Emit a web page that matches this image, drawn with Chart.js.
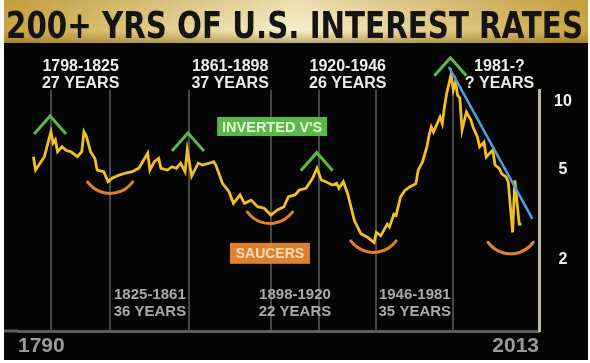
<!DOCTYPE html>
<html>
<head>
<meta charset="utf-8">
<script src="https://cdn.jsdelivr.net/npm/chart.js@4.4.0/dist/chart.umd.min.js"></script>
<style>
  html, body { margin: 0; padding: 0; background: #fff; }
  #wrap { width: 590px; height: 363px; }
</style>
</head>
<body>
<div id="wrap"><canvas id="rates"></canvas></div>
<script>
// long-term US rates (log scale)
const years = [1790, 1791, 1794, 1795, 1798, 1799, 1800, 1801, 1803, 1805, 1807, 1810, 1812, 1813, 1814,
  1816, 1818, 1819, 1822, 1824, 1826, 1829, 1832, 1835, 1838, 1842, 1843, 1845, 1847, 1848, 1851, 1853,
  1855, 1857, 1859, 1860, 1862, 1865, 1867, 1870, 1872, 1873, 1876, 1879, 1881, 1884, 1886, 1889, 1892,
  1895, 1898, 1901, 1904, 1906, 1909, 1911, 1914, 1917, 1919, 1921, 1923, 1926, 1928, 1929, 1931, 1933,
  1936, 1939, 1942, 1945, 1946, 1948, 1951, 1952, 1954, 1955, 1957, 1959, 1961, 1964, 1965, 1967, 1969,
  1970, 1971, 1972, 1974, 1975, 1976, 1977, 1978, 1980, 1981, 1982, 1983, 1984, 1985, 1987, 1989, 1990,
  1992, 1993, 1995, 1996, 1999, 2000, 2002, 2003, 2005, 2006, 2008, 2009, 2011, 2012];
const rates = [5.73, 5.0, 5.54, 5.73, 7.39, 6.59, 6.8, 6.03, 6.34, 6.1, 6.03, 5.73, 6.03, 7.39, 7.1,
  6.03, 5.62, 5.0, 4.92, 4.44, 4.61, 4.75, 4.85, 4.92, 5.1, 5.93, 5.0, 5.44, 5.63, 5.09, 5.0, 5.17,
  5.09, 5.36, 4.92, 6.13, 4.7, 5.36, 5.26, 5.36, 5.44, 5.26, 4.37, 4.01, 3.56, 3.88, 3.56, 3.68, 3.44,
  3.39, 3.16, 3.33, 3.44, 3.81, 3.88, 4.08, 4.15, 4.6, 5.09, 4.52, 4.44, 4.29, 4.37, 4.15, 4.44, 3.92,
  2.99, 2.61, 2.52, 2.39, 2.65, 2.56, 2.88, 2.8, 3.19, 3.15, 3.8, 4.06, 4.2, 4.35, 4.98, 5.43, 6.33,
  7.12, 7.75, 7.37, 8.16, 8.58, 8.03, 9.5, 10.9, 13.2, 11.3, 12.3, 10.7, 10.4, 7.52, 9.03, 8.33, 7.75,
  7.0, 6.33, 6.65, 5.71, 6.13, 5.26, 5.07, 4.82, 4.66, 4.43, 2.65, 4.5, 2.88, 2.88];

const trendYears = [1979, 2017];
const trendRates = [14.3, 3.04];

const yTicks = [2, 5, 10];
const xTickLabels = ["1790", "2013"];
const periodYears = [1798, 1825, 1861, 1898, 1920, 1946, 1981];

const topLabels = [
  { year: 1811.5, lines: ["1798-1825", "27 YEARS"] },
  { year: 1879.5, lines: ["1861-1898", "37 YEARS"] },
  { year: 1933, lines: ["1920-1946", "26 YEARS"] },
  { year: 2002, lines: ["1981-?", "? YEARS"] }
];
const bottomLabels = [
  { year: 1843, lines: ["1825-1861", "36 YEARS"] },
  { year: 1909, lines: ["1898-1920", "22 YEARS"] },
  { year: 1963.5, lines: ["1946-1981", "35 YEARS"] }
];
const peaks = [
  { year: 1797.6, rate: 8.67 },
  { year: 1860.3, rate: 7.29 },
  { year: 1918.9, rate: 5.97 },
  { year: 1979.7, rate: 15.7 }
];
const saucers = [
  { year: 1824.9, rate: 3.94 },
  { year: 1897.6, rate: 2.9 },
  { year: 1944.7, rate: 2.16 },
  { year: 2007.1, rate: 2.13 }
];

const LABEL_FONT = '"Liberation Sans", Arial, sans-serif';
const GREEN = "#58b947";
const ORANGE = "#de812c";

const backdrop = {
  id: "backdrop",
  beforeDraw(chart) {
    const { ctx, width, height, chartArea } = chart;
    ctx.save();
    ctx.fillStyle = "#fff";
    ctx.fillRect(0, 0, width, height);

    // gold banner
    const g = ctx.createLinearGradient(4, 0, 588, 0);
    g.addColorStop(0, "#c9a543");
    g.addColorStop(0.5, "#f8f0cb");
    g.addColorStop(1, "#c9a543");
    ctx.fillStyle = g;
    ctx.fillRect(4, 0, 584, 43);
    const v = ctx.createLinearGradient(0, 0, 0, 43);
    v.addColorStop(0, "rgba(150,110,20,0.15)");
    v.addColorStop(0.7, "rgba(150,110,20,0)");
    v.addColorStop(1, "rgba(120,85,10,0.45)");
    ctx.fillStyle = v;
    ctx.fillRect(4, 0, 584, 43);

    ctx.fillStyle = "#050505";
    ctx.fillRect(4, 43, 584, 317);

    // title, squeezed to the banner width
    const title = "200+ YRS OF U.S. INTEREST RATES";
    ctx.font = 'bold 37px "Liberation Sans Narrow", "DejaVu Sans Condensed", sans-serif';
    const w = ctx.measureText(title).width;
    ctx.translate(6, 37.5);
    ctx.scale(577 / w, 1);
    ctx.fillStyle = "#141414";
    ctx.textBaseline = "alphabetic";
    ctx.fillText(title, 0, 0);
    ctx.restore();

    // bottom axis runs to the left edge
    ctx.save();
    ctx.strokeStyle = "#5f5d57";
    ctx.lineWidth = 3;
    ctx.beginPath();
    ctx.moveTo(4, chartArea.bottom);
    ctx.lineTo(chartArea.left, chartArea.bottom);
    ctx.stroke();
    ctx.restore();
  }
};

function drawLines(ctx, lines, cx, y0, gap) {
  lines.forEach((t, i) => ctx.fillText(t, cx, y0 + i * gap));
}

const notes = {
  id: "notes",
  afterDatasetsDraw(chart) {
    const { ctx } = chart;
    const xs = chart.scales.x, ys = chart.scales.y;
    ctx.save();
    ctx.textAlign = "center";
    ctx.textBaseline = "middle";

    ctx.font = "bold 16px " + LABEL_FONT;
    ctx.fillStyle = "#ececec";
    topLabels.forEach(l => drawLines(ctx, l.lines, xs.getPixelForValue(l.year), 66.5, 17));

    ctx.font = "bold 15px " + LABEL_FONT;
    ctx.fillStyle = "#a9a9a9";
    bottomLabels.forEach(l => drawLines(ctx, l.lines, xs.getPixelForValue(l.year), 295, 17));

    // inverted V's
    ctx.strokeStyle = GREEN;
    ctx.lineWidth = 3;
    ctx.lineJoin = "miter";
    peaks.forEach(p => {
      const x = xs.getPixelForValue(p.year), y = ys.getPixelForValue(p.rate);
      ctx.beginPath();
      ctx.moveTo(x - 16, y + 18);
      ctx.lineTo(x, y);
      ctx.lineTo(x + 16, y + 18);
      ctx.stroke();
    });

    // saucers
    ctx.strokeStyle = ORANGE;
    ctx.lineCap = "round";
    saucers.forEach(s => {
      const x = xs.getPixelForValue(s.year), y = ys.getPixelForValue(s.rate);
      const r = 28;
      ctx.beginPath();
      ctx.arc(x, y - r, r, Math.PI * 0.2, Math.PI * 0.8);
      ctx.stroke();
    });

    // tag boxes
    const tag = (text, year, rate, w, h, bg, fg, size) => {
      const x = xs.getPixelForValue(year), y = ys.getPixelForValue(rate);
      ctx.fillStyle = bg;
      ctx.fillRect(x - w / 2, y - h / 2, w, h);
      ctx.fillStyle = fg;
      ctx.font = "bold " + size + "px " + LABEL_FONT;
      ctx.fillText(text, x, y + 1);
    };
    tag("INVERTED V'S", 1898.6, 7.79, 110, 19, GREEN, "#e9f6dc", 14.5);
    tag("SAUCERS", 1897.6, 2.14, 80, 21, ORANGE, "#f7dcc0", 14);
    ctx.restore();
  }
};

const ctx = document.getElementById("rates").getContext("2d");

new Chart(ctx, {
  type: "line",
  data: {
    datasets: [
      {
        data: trendYears.map((x, i) => ({ x, y: trendRates[i] })),
        borderColor: "#4c9fe0",
        borderWidth: 2.5,
        pointRadius: 0,
        clip: false,
        order: 0
      },
      {
        data: years.map((x, i) => ({ x, y: rates[i] })),
        borderColor: "#f4bf22",
        borderWidth: 2.8,
        pointRadius: 0,
        tension: 0,
        clip: false,
        order: 1
      }
    ]
  },
  options: {
    responsive: true,
    maintainAspectRatio: false,
    animation: false,
    layout: { padding: { top: 90, left: 18, right: 0, bottom: 0 } },
    plugins: { legend: { display: false }, tooltip: { enabled: false } },
    scales: {
      x: {
        type: "linear",
        min: 1783,
        max: 2020,
        afterBuildTicks: scale => {
          scale.ticks = [scale.min, ...periodYears, scale.max].map(value => ({ value }));
        },
        afterFit: scale => { scale.height = 32; },
        grid: {
          drawTicks: false,
          lineWidth: 2,
          color: c => periodYears.includes(c.tick && c.tick.value) ? "#474747" : "transparent"
        },
        border: { color: "#5f5d57", width: 3 },
        ticks: {
          autoSkip: false,
          maxRotation: 0,
          align: "inner",
          padding: 3,
          color: "#9b9b9b",
          font: { family: LABEL_FONT, size: 21, weight: "bold" },
          callback: (value, index, ticks) =>
            index === 0 ? xTickLabels[0] : index === ticks.length - 1 ? xTickLabels[1] : ""
        }
      },
      y: {
        type: "logarithmic",
        position: "right",
        min: 0.97,
        max: 11.3,
        afterBuildTicks: scale => { scale.ticks = yTicks.map(value => ({ value })); },
        afterFit: scale => { scale.width = 51; },
        grid: { display: false, drawTicks: false },
        border: { color: "#bdb59c", width: 3 },
        ticks: {
          padding: 15,
          crossAlign: "center",
          color: "#f2f2f2",
          font: { family: LABEL_FONT, size: 16, weight: "bold" },
          callback: value => String(value)
        }
      }
    }
  },
  plugins: [backdrop, notes]
});
</script>
</body>
</html>
